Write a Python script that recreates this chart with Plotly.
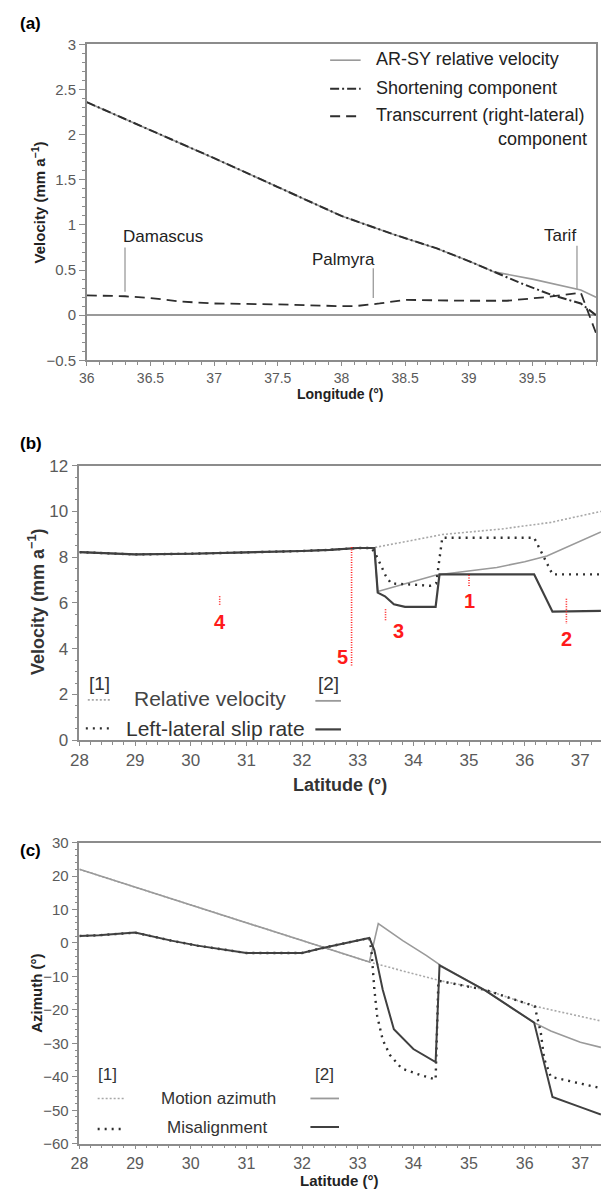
import plotly.graph_objects as go

W, H = 601, 1199

# ---------------- Panel (a) data ----------------
a_lon_rel = [36.0, 36.5, 37.0, 37.5, 38.0, 38.4, 38.75, 39.0, 39.2, 39.5, 39.88, 40.0]
a_rel = [2.36, 2.05, 1.74, 1.42, 1.10, 0.90, 0.74, 0.60, 0.48, 0.40, 0.28, 0.20]
a_lon_short = [36.0, 36.5, 37.0, 37.5, 38.0, 38.4, 38.75, 39.0, 39.2, 39.4, 39.64, 39.88, 40.0]
a_short = [2.36, 2.05, 1.74, 1.42, 1.10, 0.90, 0.74, 0.60, 0.48, 0.36, 0.23, 0.13, 0.0]
a_lon_trans = [36.0, 36.3, 36.5, 36.75, 37.0, 37.5, 38.0, 38.1, 38.3, 38.5, 39.0, 39.3, 39.6, 39.88, 40.0]
a_trans = [0.22, 0.21, 0.19, 0.15, 0.13, 0.12, 0.10, 0.10, 0.13, 0.17, 0.16, 0.16, 0.20, 0.25, -0.20]
a_places = ["Damascus", "Palmyra", "Tarif"]
a_place_lon = [36.6, 38.02, 39.72]
a_place_v = [0.87, 0.62, 0.88]
a_leader_lon = [36.30, 38.25, 39.85]
a_leader_top = [0.75, 0.52, 0.77]
a_leader_bot = [0.26, 0.19, 0.29]

# ---------------- Panel (b) data ----------------
b_lat_rel1 = [28.0, 28.5, 29.0, 30.0, 31.0, 32.0, 32.5, 33.0, 33.25, 33.5, 33.82, 34.52, 35.58, 36.47, 37.37]
b_rel1 = [8.22, 8.18, 8.12, 8.15, 8.2, 8.27, 8.32, 8.4, 8.4, 8.5, 8.66, 8.99, 9.23, 9.52, 10.0]
b_lat_slip1 = [28.0, 28.5, 29.0, 30.0, 31.0, 32.0, 32.5, 33.0, 33.25, 33.35, 33.5, 33.6, 34.0, 34.3, 34.41, 34.52, 36.17, 36.5, 37.37]
b_slip1 = [8.22, 8.18, 8.12, 8.15, 8.2, 8.27, 8.32, 8.4, 8.4, 8.0, 7.2, 6.85, 6.8, 6.75, 6.85, 8.85, 8.85, 7.25, 7.25]
b_lat_rel2 = [28.0, 28.5, 29.0, 30.0, 31.0, 32.0, 32.5, 33.0, 33.3, 33.36, 34.41, 35.0, 35.5, 36.0, 36.4, 37.37]
b_rel2 = [8.22, 8.18, 8.12, 8.15, 8.2, 8.27, 8.32, 8.4, 8.4, 6.5, 7.22, 7.40, 7.55, 7.8, 8.05, 9.1]
b_lat_slip2 = [28.0, 28.5, 29.0, 30.0, 31.0, 32.0, 32.5, 33.0, 33.3, 33.36, 33.49, 33.65, 33.85, 34.4, 34.47, 36.17, 36.5, 37.37]
b_slip2 = [8.22, 8.18, 8.12, 8.15, 8.2, 8.27, 8.32, 8.4, 8.4, 6.45, 6.29, 5.94, 5.83, 5.83, 7.25, 7.25, 5.62, 5.65]
b_mark_labels = ["1", "2", "3", "4", "5"]
b_mark_lat = [35.0, 36.75, 33.5, 30.52, 32.89]
b_mark_top = [7.22, 6.18, 5.72, 6.29, 8.44]
b_mark_bot = [6.72, 5.08, 5.22, 5.86, 3.21]
b_label_lat = [35.0, 36.75, 33.74, 30.52, 32.72]
b_label_v = [6.08, 4.43, 4.79, 5.15, 3.65]

# ---------------- Panel (c) data ----------------
c_lat_az1 = [28.0, 33.21, 33.82, 34.49, 35.29, 36.18, 37.37]
c_az1 = [22.0, -5.7, -8.4, -11.3, -14.0, -18.9, -23.3]
c_lat_az2 = [28.0, 33.21, 33.37, 33.81, 34.23, 34.49, 35.29, 36.17, 36.47, 37.0, 37.37]
c_az2 = [22.0, -5.7, 5.8, 0.7, -3.7, -6.7, -14.2, -23.8, -26.3, -29.7, -31.2]
c_lat_mis1 = [28.0, 28.35, 29.0, 29.65, 30.12, 31.0, 32.0, 32.37, 33.21, 33.25, 33.3, 33.35, 33.45, 33.58,
              33.79, 34.13, 34.4, 34.45, 35.29, 36.18, 36.29, 36.35, 36.47, 37.37]
c_mis1 = [2.1, 2.3, 3.1, 0.7, -0.8, -3.0, -3.0, -1.5, 1.5, -3.0, -14.0, -21.8, -29.0, -33.5,
          -37.5, -39.5, -40.8, -11.3, -14.0, -18.9, -26.8, -34.6, -40.0, -43.4]
c_lat_mis2 = [28.0, 28.35, 29.0, 29.65, 30.12, 31.0, 32.0, 32.37, 33.21, 33.3, 33.45, 33.65, 34.0, 34.4,
              34.47, 35.29, 36.17, 36.5, 37.04, 37.37]
c_mis2 = [2.1, 2.3, 3.1, 0.7, -0.8, -3.0, -3.0, -1.5, 1.5, -2.2, -14.0, -25.8, -31.7, -35.6,
          -6.7, -14.2, -23.8, -46.0, -49.3, -51.3]

FONT = "Liberation Sans, Arial, sans-serif"
AXC = "#8c8c8c"
TKC = "#5a5a5a"
LIGHT = "#a8a8a8"
MID = "#9a9a9a"
DARK = "#2e2e2e"
RED = "#ff1a1a"


def px(x):
    return x / W


def py(y):
    return 1 - y / H


fig = go.Figure()

# Panel (a) traces
fig.add_trace(go.Scatter(x=a_lon_rel, y=a_rel, mode="lines", line=dict(color=MID, width=1.6),
                         xaxis="x", yaxis="y", showlegend=False))
fig.add_trace(go.Scatter(x=a_lon_short, y=a_short, mode="lines",
                         line=dict(color=DARK, width=2, dash="9px,3px,2px,3px"),
                         xaxis="x", yaxis="y", showlegend=False))
fig.add_trace(go.Scatter(x=a_lon_trans, y=a_trans, mode="lines",
                         line=dict(color=DARK, width=1.8, dash="10px,6px"),
                         xaxis="x", yaxis="y", showlegend=False))

# Panel (b) traces
fig.add_trace(go.Scatter(x=b_lat_rel1, y=b_rel1, mode="lines", line=dict(color=LIGHT, width=1.6, dash="2px,2px"),
                         xaxis="x2", yaxis="y2", showlegend=False))
fig.add_trace(go.Scatter(x=b_lat_rel2, y=b_rel2, mode="lines", line=dict(color=MID, width=1.6),
                         xaxis="x2", yaxis="y2", showlegend=False))
fig.add_trace(go.Scatter(x=b_lat_slip1, y=b_slip1, mode="lines", line=dict(color=DARK, width=2.4, dash="2px,5px"),
                         xaxis="x2", yaxis="y2", showlegend=False))
fig.add_trace(go.Scatter(x=b_lat_slip2, y=b_slip2, mode="lines", line=dict(color="#404040", width=2.2),
                         xaxis="x2", yaxis="y2", showlegend=False))
for lat, top, bot in zip(b_mark_lat, b_mark_top, b_mark_bot):
    fig.add_trace(go.Scatter(x=[lat, lat], y=[top, bot], mode="lines",
                             line=dict(color=RED, width=1.6, dash="1px,1.5px"),
                             xaxis="x2", yaxis="y2", showlegend=False))

# Panel (c) traces
fig.add_trace(go.Scatter(x=c_lat_az1, y=c_az1, mode="lines", line=dict(color=LIGHT, width=1.6, dash="2px,2px"),
                         xaxis="x3", yaxis="y3", showlegend=False))
fig.add_trace(go.Scatter(x=c_lat_az2, y=c_az2, mode="lines", line=dict(color=MID, width=1.6),
                         xaxis="x3", yaxis="y3", showlegend=False))
fig.add_trace(go.Scatter(x=c_lat_mis1, y=c_mis1, mode="lines", line=dict(color=DARK, width=2.4, dash="2px,5px"),
                         xaxis="x3", yaxis="y3", showlegend=False))
fig.add_trace(go.Scatter(x=c_lat_mis2, y=c_mis2, mode="lines", line=dict(color="#404040", width=2.0),
                         xaxis="x3", yaxis="y3", showlegend=False))

ann = []
shapes = []

# place names + leaders (a)
for name, lx, lv in zip(a_places, a_place_lon, a_place_v):
    ann.append(dict(x=lx, y=lv, xref="x", yref="y", text=name, showarrow=False,
                    font=dict(family=FONT, size=17, color="#222")))
for lx, t, b in zip(a_leader_lon, a_leader_top, a_leader_bot):
    shapes.append(dict(type="line", xref="x", yref="y", x0=lx, x1=lx, y0=t, y1=b,
                       line=dict(color=MID, width=1.3)))

# red labels (b)
for lab, lx, lv in zip(b_mark_labels, b_label_lat, b_label_v):
    ann.append(dict(x=lx, y=lv, xref="x2", yref="y2", text="<b>%s</b>" % lab, showarrow=False,
                    font=dict(family=FONT, size=20, color=RED)))


def text(x, y, s, size, color="#333", bold=False, xanchor="center", angle=0):
    ann.append(dict(x=px(x), y=py(y), xref="paper", yref="paper", text=("<b>%s</b>" % s) if bold else s,
                    showarrow=False, xanchor=xanchor, yanchor="middle", textangle=angle, borderpad=0,
                    font=dict(family=FONT, size=size, color=color)))


def seg(x0, x1, y, color, width, dash="solid"):
    shapes.append(dict(type="line", xref="paper", yref="paper", x0=px(x0), x1=px(x1), y0=py(y), y1=py(y),
                       line=dict(color=color, width=width, dash=dash)))


# panel labels
text(22, 15, "(a)", 17, "#000", True)
text(22, 441, "(b)", 17, "#000", True)
text(22, 855, "(c)", 17, "#000", True)

# axis titles
text(30, 197, "Velocity (mm a<sup>−1</sup>)", 15, "#222", True, angle=-90)
text(336, 391, "Longitude (°)", 14, "#222", True)
text(28, 603, "Velocity (mm a<sup>−1</sup>)", 18, "#333", True, angle=-90)
text(336, 788, "Latitude (°)", 18, "#333", True)
text(28, 1000, "Azimuth (°)", 15, "#222", True, angle=-90)
text(336, 1190, "Latitude (°)", 15, "#222", True)

# legend (a)
text(372, 51, "AR-SY relative velocity", 18, "#222", xanchor="left")
text(372, 80, "Shortening component", 18, "#222", xanchor="left")
text(372, 108, "Transcurrent (right-lateral)", 18, "#222", xanchor="left")
text(588, 132, "component", 18, "#222", xanchor="right")
seg(326, 357, 52, MID, 1.6)
seg(326, 357, 81, DARK, 2, "9px,3px,2px,3px")
seg(326, 357, 109, DARK, 1.8, "10px,6px")

# legend (b)
text(92, 685, "[1]", 19, "#333")
text(324, 685, "[2]", 19, "#333")
text(204, 701, "Relative velocity", 21, "#444")
text(210, 731, "Left-lateral slip rate", 21, "#333")
seg(80, 104, 702, LIGHT, 1.6, "2px,2px")
seg(78, 105, 731, DARK, 2.4, "2px,5px")
seg(311, 337, 703, MID, 1.8)
seg(311, 337, 732, "#404040", 2.2)

# legend (c)
text(100, 1083, "[1]", 17, "#333")
text(320, 1083, "[2]", 17, "#333")
text(213, 1107, "Motion azimuth", 17, "#333")
text(211, 1137, "Misalignment", 17, "#333")
seg(90, 118, 1107, LIGHT, 1.6, "2px,2px")
seg(90, 118, 1138, DARK, 2.4, "2px,5px")
seg(306, 335, 1107, MID, 1.8)
seg(306, 335, 1136, "#404040", 2.0)


def xax(domain, rng, dtick, mdtick, size, mirror=True, ticklen=5):
    return dict(domain=domain, range=rng, dtick=dtick, tick0=rng[0], showgrid=False, zeroline=False,
                showline=True, linecolor=AXC, linewidth=1.5, mirror=mirror, ticks="outside", ticklen=ticklen,
                tickcolor=AXC, tickwidth=1.2, tickfont=dict(family=FONT, size=size, color=TKC),
                minor=dict(ticks="outside", ticklen=3, dtick=mdtick, tickcolor=AXC, showgrid=False))


def yax(domain, rng, dtick, mdtick, size, mirror=False, anchor="x"):
    return dict(domain=domain, range=rng, dtick=dtick, tick0=rng[0], showgrid=False, zeroline=False,
                showline=True, linecolor=AXC, linewidth=1.5, mirror=mirror, ticks="outside", ticklen=6,
                tickcolor=AXC, tickwidth=1.2, tickfont=dict(family=FONT, size=size, color=TKC), anchor=anchor,
                minor=dict(ticks="outside", ticklen=3, dtick=mdtick, tickcolor=AXC, showgrid=False))


xa = xax([px(79), px(596)], [36, 40], 0.5, 0.1, 14, ticklen=4)
ya = yax([py(357), py(36)], [-0.5, 3], 0.5, 0.1, 15, mirror=True, anchor="x")
ya.update(zeroline=True, zerolinecolor=MID, zerolinewidth=1.5)
xa.update(anchor="y")

x_end = 28 + (601 - 71.5) / 56.5
xb = xax([px(71.5), 1.0], [28, x_end], 1, 0.2, 17, ticklen=4)
xb.update(anchor="y2")
yb = yax([py(743), py(464)], [0, 12], 2, 0.5, 17, anchor="x2")

xc = xax([px(71.5), 1.0], [28, x_end], 1, 0.2, 16, ticklen=4)
xc.update(anchor="y3")
yc = yax([py(1153), py(847)], [-60, 30], 10, 2, 15, anchor="x3")

fig.update_layout(
    width=W, height=H, margin=dict(l=0, r=0, t=0, b=0),
    paper_bgcolor="white", plot_bgcolor="white",
    xaxis=xa, yaxis=ya, xaxis2=xb, yaxis2=yb, xaxis3=xc, yaxis3=yc,
    annotations=ann, shapes=shapes, showlegend=False,
)

fig.write_html("out.html")
